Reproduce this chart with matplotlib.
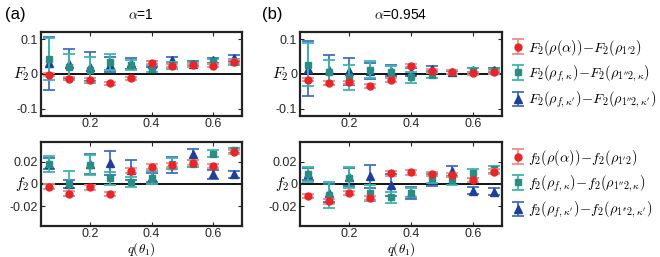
import numpy as np
import matplotlib
matplotlib.use("Agg")
import matplotlib.pyplot as plt
from matplotlib.transforms import blended_transform_factory

plt.rcParams['font.family'] = ['Liberation Sans', 'DejaVu Sans']
plt.rcParams['mathtext.fontset'] = 'cm'
plt.rcParams['axes.unicode_minus'] = False

q = np.arange(1, 11) / 15.0

# Panel (a) alpha=1, F2
Fa_red = [-0.002, -0.013, -0.017, -0.027, -0.0125, 0.033, 0.024, 0.025, 0.024, 0.036]
Fa_red_err = [0.005] * 10
Fa_teal = [0.043, 0.021, 0.011, 0.035, 0.025, 0.015, 0.025, 0.029, 0.0365, 0.034]
Fa_teal_err = [0.061, 0.038, 0.037, 0.023, 0.014, 0.010, 0.010, 0.007, 0.008, 0.008]
Fa_blue = [0.031, 0.030, 0.021, 0.027, 0.031, 0.029, 0.040, 0.030, 0.039, 0.046]
Fa_blue_err = [0.077, 0.041, 0.042, 0.021, 0.016, 0.009, 0.008, 0.007, 0.008, 0.008]

# Panel (a) alpha=1, f2
fa_red = [-0.0024, -0.0085, -0.003, -0.009, 0.012, 0.0155, 0.017, 0.019, 0.016, 0.0285]
fa_red_err = [0.002] * 10
fa_teal = [0.018, 0.0004, 0.0168, 0.005, 0.002, 0.0056, 0.018, 0.018, 0.027, 0.030]
fa_teal_err = [0.007, 0.0115, 0.009, 0.006, 0.0045, 0.006, 0.005, 0.003, 0.003, 0.002]
fa_blue = [0.018, 0.0, 0.018, 0.0187, 0.0124, 0.006, 0.017, 0.0265, 0.0085, 0.0085]
fa_blue_err = [0.005, 0.004, 0.009, 0.011, 0.009, 0.004, 0.007, 0.005, 0.004, 0.003]

# Panel (b) alpha=0.954, F2
Fb_red = [-0.016, -0.026, -0.024, -0.034, -0.017, 0.024, 0.008, 0.006, 0.002, 0.005]
Fb_red_err = [0.005] * 10
Fb_teal = [0.027, 0.005, -0.009, 0.0125, 0.005, -0.0096, -0.002, 0.005, 0.010, 0.008]
Fb_teal_err = [0.063, 0.036, 0.036, 0.024, 0.017, 0.015, 0.010, 0.005, 0.006, 0.006]
Fb_blue = [0.015, 0.0115, 0.0075, 0.009, 0.010, 0.005, 0.015, 0.005, 0.012, 0.011]
Fb_blue_err = [0.079, 0.044, 0.039, 0.023, 0.017, 0.012, 0.008, 0.005, 0.005, 0.006]

# Panel (b) alpha=0.954, f2
fb_red = [-0.0106, -0.0156, -0.0082, -0.0126, 0.0094, 0.0103, 0.0088, 0.008, 0.0035, 0.011]
fb_red_err = [0.002] * 10
fb_teal = [0.0085, -0.010, 0.0056, -0.008, -0.012, -0.008, 0.005, 0.0035, 0.0094, 0.013]
fb_teal_err = [0.0066, 0.0115, 0.0095, 0.0073, 0.005, 0.004, 0.004, 0.004, 0.004, 0.003]
fb_blue = [0.009, -0.008, 0.006, 0.0068, -0.001, -0.008, 0.004, 0.0114, -0.006, -0.007]
fb_blue_err = [0.005, 0.008, 0.008, 0.0105, 0.0096, 0.005, 0.006, 0.0045, 0.003, 0.003]

F_labels = [r'$F_2(\rho(\alpha))\!-\!F_2(\rho_{1^{\prime}2})$',
            r'$F_2(\rho_{f,\kappa})\!-\!F_2(\rho_{1^{\prime\prime}2,\kappa})$',
            r"$F_2(\rho_{f,\kappa^{\prime}})\!-\!F_2(\rho_{1^{\prime\prime}2,\kappa^{\prime}})$"]
f_labels = [r'$f_2(\rho(\alpha))\!-\!f_2(\rho_{1^{\prime}2})$',
            r'$f_2(\rho_{f,\kappa})\!-\!f_2(\rho_{1^{\prime\prime}2,\kappa})$',
            r"$f_2(\rho_{f,\kappa^{\prime}})\!-\!f_2(\rho_{1^{\prime\prime}2,\kappa^{\prime}})$"]

red_e, red_m = '#f08a8a', '#e8262a'
teal_e, teal_m = '#3bb8aa', '#2a8c82'
blue_e, blue_m = '#3f6fc4', '#1f3f9a'

W, H = 660, 257
fig = plt.figure(figsize=(6.6, 2.57), dpi=100)

def ax_at(x0, y0, x1, y1):
    return fig.add_axes([x0 / W, 1 - y1 / H, (x1 - x0) / W, (y1 - y0) / H])

axes = {
    'aF': ax_at(40.7, 32, 242, 116),
    'af': ax_at(40.7, 142, 242, 226),
    'bF': ax_at(300, 32, 502, 116),
    'bf': ax_at(300, 142, 502, 226),
}

data = {
    'aF': (Fa_red, Fa_red_err, Fa_teal, Fa_teal_err, Fa_blue, Fa_blue_err),
    'af': (fa_red, fa_red_err, fa_teal, fa_teal_err, fa_blue, fa_blue_err),
    'bF': (Fb_red, Fb_red_err, Fb_teal, Fb_teal_err, Fb_blue, Fb_blue_err),
    'bf': (fb_red, fb_red_err, fb_teal, fb_teal_err, fb_blue, fb_blue_err),
}

for key, ax in axes.items():
    r, re_, t, te, b, be = data[key]
    ax.axhline(0, color='black', lw=1.3, zorder=1)
    hb = ax.errorbar(q, b, yerr=be, fmt='^', color=blue_e, mfc=blue_m, mec=blue_m,
                     ms=5.5, capsize=4, elinewidth=1.3, capthick=1.3, zorder=2)
    ht = ax.errorbar(q, t, yerr=te, fmt='s', color=teal_e, mfc=teal_m, mec=teal_m,
                     ms=4.8, capsize=4, elinewidth=1.3, capthick=1.3, zorder=3)
    hr = ax.errorbar(q, r, yerr=re_, fmt='o', color=red_e, mfc=red_m, mec=red_m,
                     ms=5, capsize=4, elinewidth=1.3, capthick=1.3, zorder=4)
    ax.set_xlim(0.04, 0.694)
    ax.set_xticks([0.2, 0.4, 0.6])
    ax.set_xticklabels(['0.2', '0.4', '0.6'])
    if key.endswith('F'):
        ax.set_ylim(-0.121, 0.121)
        ax.set_yticks([-0.1, 0, 0.1])
        ax.set_yticklabels(['-0.1', '0', '0.1'])
        ylab = '$F_2$'
    else:
        ax.set_ylim(-0.0375, 0.0375)
        ax.set_yticks([-0.02, 0, 0.02])
        ax.set_yticklabels(['-0.02', '0', '0.02'])
        ylab = '$f_2$'
    ax.tick_params(direction='in', top=True, right=True, length=3, width=0.8,
                   labelsize=9, pad=2, colors='#262626')
    ax.tick_params(axis='x', pad=1.5)
    for s in ax.spines.values():
        s.set_linewidth(1.6)
        s.set_color('#222222')
    tr = blended_transform_factory(ax.transAxes, ax.transData)
    ax.text(-0.055, 0, ylab, transform=tr, ha='right', va='center', fontsize=11)
    if key.endswith('f'):
        ax.text(0.5, -0.165, r'$q(\theta_1)$', transform=ax.transAxes, ha='center',
                va='top', fontsize=9.5)
    if key.startswith('b'):
        labels = F_labels if key.endswith('F') else f_labels
        ax.legend([hr, ht, hb], labels, loc='center left', bbox_to_anchor=(1.0, 0.5),
                  frameon=False, fontsize=10.3, handlelength=1.0, handletextpad=0.2,
                  labelspacing=0.4, borderaxespad=0.25)

fig.text(5 / W, 1 - 15 / H, '(a)', fontsize=12, ha='left', va='center')
fig.text(262 / W, 1 - 15 / H, '(b)', fontsize=12, ha='left', va='center')
fig.text(141 / W, 1 - 15 / H, r'$\alpha$=1', fontsize=10, ha='center', va='center')
fig.text(401 / W, 1 - 15 / H, r'$\alpha$=0.954', fontsize=10, ha='center', va='center')

fig.savefig('out.png', dpi=100)
